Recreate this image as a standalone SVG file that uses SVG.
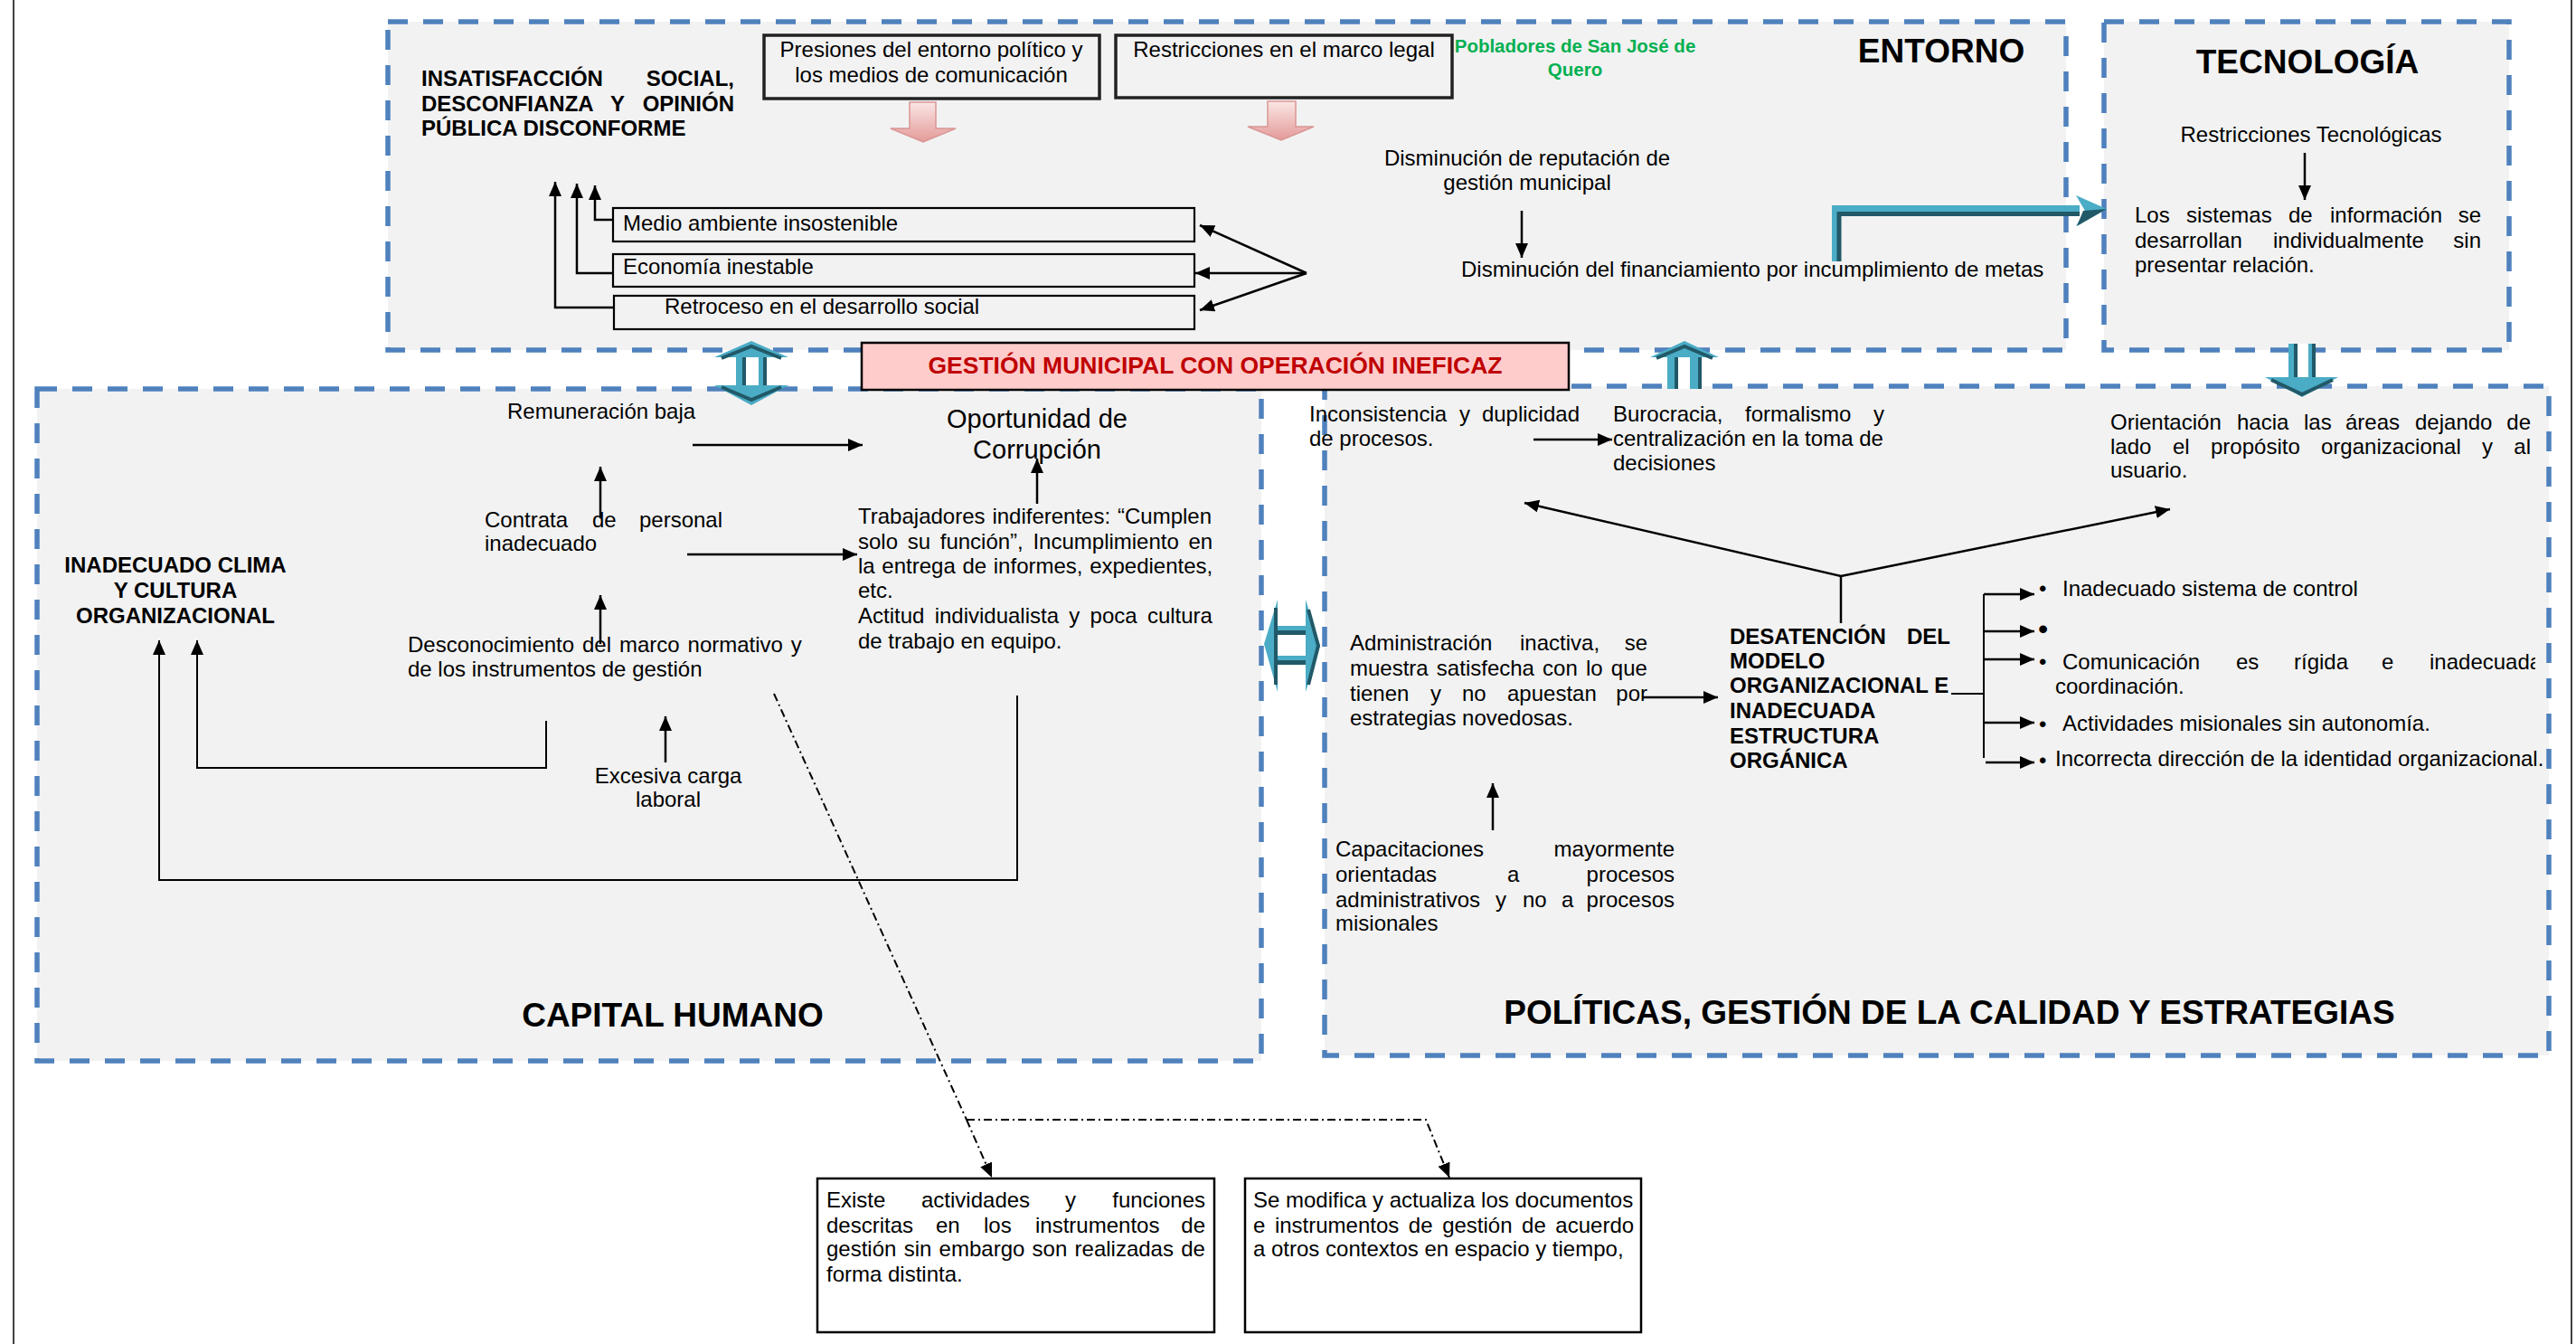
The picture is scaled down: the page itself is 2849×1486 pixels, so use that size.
<svg xmlns="http://www.w3.org/2000/svg" width="2849" height="1486" viewBox="0 0 2849 1486">
  <style>
    .t{font-family:"Liberation Sans",Arial,Helvetica,sans-serif;font-size:24px;fill:#000}
    .b{font-weight:bold}
    .h{font-family:"Liberation Sans",Arial,Helvetica,sans-serif;font-size:37px;font-weight:bold;fill:#000}
    .m{text-anchor:middle}
    .e{text-anchor:end}
    .zone{fill:#f2f2f2;stroke:#4f81bd;stroke-width:5.5;stroke-dasharray:22 17}
    .ln{fill:none;stroke:#000;stroke-width:2.5}
    .thin{fill:none;stroke:#000;stroke-width:2}
    .arr{marker-end:url(#ah)}
    .dd{fill:none;stroke:#000;stroke-width:2;stroke-dasharray:9 4 2 4}
    .box{fill:#f2f2f2;stroke:#000;stroke-width:2.2}
    .wbox{fill:#fff;stroke:#000;stroke-width:2.5}
    .teal{fill:#4bacc6}
    .dark{fill:#215968}
    .darkln{fill:none;stroke:#215968;stroke-width:4}
    .pink{fill:url(#pk);stroke:#d99694;stroke-width:1.5}
  </style>
  <defs>
    <marker id="ah" markerUnits="userSpaceOnUse" markerWidth="18" markerHeight="16" refX="16" refY="7" orient="auto">
      <path d="M0,0 L16,7 L0,14 z" fill="#000"/>
    </marker>
    <linearGradient id="pk" x1="0" y1="0" x2="0" y2="1">
      <stop offset="0" stop-color="#fae6e5"/>
      <stop offset="1" stop-color="#e39a98"/>
    </linearGradient>
    <clipPath id="clipR">
      <rect x="0" y="0" width="2804" height="1486"/>
    </clipPath>
  </defs>

  <rect x="0" y="0" width="2849" height="1486" fill="#fff"/>
  <!-- page frame -->
  <line x1="15" y1="0" x2="15" y2="1486" stroke="#000" stroke-width="1.5"/>
  <line x1="2844" y1="0" x2="2844" y2="1486" stroke="#000" stroke-width="1.5"/>

  <!-- zones -->
  <g id="entorno">
    <rect class="zone" x="429" y="24" width="1856" height="363"/>
    <text class="h m" x="2147" y="69">ENTORNO</text>
  </g>
  <g id="tecnologia">
    <rect class="zone" x="2327" y="24" width="448" height="363"/>
    <text class="h m" x="2552" y="81">TECNOLOGÍA</text>
  </g>
  <g id="capital-humano">
    <rect class="zone" x="41" y="430" width="1354" height="743"/>
    <text class="h m" x="744" y="1135">CAPITAL HUMANO</text>
  </g>
  <g id="politicas">
    <rect class="zone" x="1465" y="427" width="1354" height="740"/>
    <text class="h m" x="2156" y="1132">POLÍTICAS, GESTIÓN DE LA CALIDAD Y ESTRATEGIAS</text>
  </g>

  <!-- connectors -->
  <g id="connectors">
    <!-- entorno -->
    <path class="ln arr" d="M678,243 H658 V205"/>
    <path class="ln arr" d="M678,302 H638 V203"/>
    <path class="ln arr" d="M679,340 H614 V201"/>
    <path class="ln arr" d="M1445,302 L1327,249"/>
    <path class="ln arr" d="M1445,302 L1322,302"/>
    <path class="ln arr" d="M1445,302 L1327,343"/>
    <path class="ln arr" d="M1683,233 V285"/>
    <!-- tecnologia -->
    <path class="ln arr" d="M2549,169 V221"/>
    <!-- capital humano -->
    <path class="ln arr" d="M766,492 H954"/>
    <path class="ln arr" d="M1147,557 V507"/>
    <path class="ln arr" d="M664,573 V516"/>
    <path class="ln arr" d="M760,613 H948"/>
    <path class="ln arr" d="M664,712 V658"/>
    <path class="ln arr" d="M736,843 V792"/>
    <path class="thin arr" d="M604,797 V849 H218 V708"/>
    <path class="thin arr" d="M1125,769 V973 H176 V708"/>
    <!-- dash-dot links to the lower boxes -->
    <path class="dd" d="M856,767 L1069,1238"/>
    <path class="dd arr" d="M1069,1238 L1097,1302"/>
    <path class="dd arr" d="M1069,1238 H1577 L1603,1302"/>
    <!-- politicas -->
    <path class="ln arr" d="M1696,486 H1783"/>
    <path class="ln" d="M2036,689 V637"/>
    <path class="ln arr" d="M2036,637 L1686,556"/>
    <path class="ln arr" d="M2036,637 L2400,563"/>
    <path class="ln arr" d="M1816,771 H1900"/>
    <path class="ln arr" d="M1651,918 V866"/>
    <path class="thin" d="M2158,767 H2194 M2194,657 V838"/>
    <path class="ln arr" d="M2194,657 H2250"/>
    <path class="ln arr" d="M2194,698 H2250"/>
    <path class="ln arr" d="M2194,729 H2250"/>
    <path class="ln arr" d="M2194,799 H2250"/>
    <path class="ln arr" d="M2196,843 H2250"/>

    <!-- pink block arrows -->
    <polygon class="pink" points="1006,113 1035,113 1035,142 1057,142 1021,157 985,142 1006,142"/>
    <polygon class="pink" points="1402,112 1433,112 1433,140 1453,140 1417,155 1380,140 1402,140"/>

    <!-- teal block arrows -->
    <g id="arrow-updown">
      <polygon class="teal" points="831,377 872,395 848,395 848,426 872,426 831,448 790,426 814,426 814,395 790,395"/>
      <rect fill="#fff" x="825" y="395" width="14" height="31"/>
      <rect class="dark" x="821" y="395" width="4" height="31"/>
      <rect class="dark" x="844" y="395" width="4" height="31"/>
      <polyline class="darkln" points="798,396 831,383 864,396"/>
      <polyline class="darkln" points="798,428 831,442 864,428"/>
    </g>
    <g id="arrow-up">
      <polygon class="teal" points="1863,377 1901,395 1882,395 1882,430 1844,430 1844,395 1825,395"/>
      <rect fill="#fff" x="1856" y="395" width="13" height="35"/>
      <rect class="dark" x="1852" y="395" width="4" height="35"/>
      <rect class="dark" x="1878" y="395" width="4" height="35"/>
      <polyline class="darkln" points="1832,396 1863,383 1894,396"/>
    </g>
    <g id="arrow-down">
      <polygon class="teal" points="2531,380 2561,380 2561,417 2586,417 2546,439 2505,417 2531,417"/>
      <rect fill="#fff" x="2541" y="380" width="12" height="37"/>
      <rect class="dark" x="2537" y="380" width="4" height="37"/>
      <rect class="dark" x="2557" y="380" width="4" height="37"/>
      <polyline class="darkln" points="2512,420 2546,436 2580,420"/>
    </g>
    <g id="arrow-leftright">
      <polygon class="teal" points="1398,712 1413,663 1413,692 1444,692 1444,663 1460,714 1444,765 1444,735 1413,735 1413,765"/>
      <rect fill="#fff" x="1413" y="702" width="31" height="23"/>
      <rect class="dark" x="1413" y="697" width="31" height="5"/>
      <rect class="dark" x="1413" y="730" width="31" height="5"/>
      <polyline class="darkln" points="1411,672 1411,757"/>
      <polyline class="darkln" points="1447,674 1458,714 1447,757"/>
    </g>
    <g id="arrow-elbow">
      <path d="M2029.5,289 V230.5 H2300" fill="none" stroke="#4bacc6" stroke-width="7"/>
      <path d="M2034,289 V236.5 H2300" fill="none" stroke="#215968" stroke-width="5"/>
      <polygon class="teal" points="2296,216 2330,231 2296,250 2306,233"/>
      <polygon class="dark" points="2304,233 2330,231 2297,250"/>
    </g>
  </g>

  <!-- entorno nodes -->
  <g id="n-insatisfaccion">
    <text class="t b" x="466" y="95">INSATISFACCIÓN</text>
    <text class="t b e" x="812" y="95">SOCIAL,</text>
    <text class="t b" x="466" y="123">DESCONFIANZA</text>
    <text class="t b" x="675" y="123">Y</text>
    <text class="t b e" x="812" y="123">OPINIÓN</text>
    <text class="t b" x="466" y="150">PÚBLICA DISCONFORME</text>
  </g>
  <g id="n-presiones">
    <rect x="845" y="39" width="371" height="70" fill="#f2f2f2" stroke="#222" stroke-width="3.5"/>
    <text class="t m" x="1030" y="63">Presiones del entorno político y</text>
    <text class="t m" x="1030" y="91">los medios de comunicación</text>
  </g>
  <g id="n-restricciones-legal">
    <rect x="1234" y="39" width="372" height="69" fill="#f2f2f2" stroke="#222" stroke-width="3.5"/>
    <text class="t m" x="1420" y="63">Restricciones en el marco legal</text>
  </g>
  <g id="n-pobladores">
    <text class="t b m" x="1742" y="58" style="font-size:20.5px;fill:#00b050">Pobladores de San José de</text>
    <text class="t b m" x="1742" y="84" style="font-size:20.5px;fill:#00b050">Quero</text>
  </g>
  <g id="n-medio-ambiente">
    <rect class="box" x="678" y="230" width="643" height="37"/>
    <text class="t" x="689" y="255">Medio ambiente insostenible</text>
  </g>
  <g id="n-economia">
    <rect class="box" x="678" y="281" width="643" height="36"/>
    <text class="t" x="689" y="303">Economía inestable</text>
  </g>
  <g id="n-retroceso">
    <rect class="box" x="679" y="327" width="642" height="37"/>
    <text class="t" x="735" y="347">Retroceso en el desarrollo social</text>
  </g>
  <g id="n-reputacion">
    <text class="t m" x="1689" y="183">Disminución de reputación de</text>
    <text class="t m" x="1689" y="210">gestión municipal</text>
  </g>
  <g id="n-financiamiento">
    <text class="t" x="1616" y="306">Disminución del financiamiento por incumplimiento de metas</text>
  </g>

  <!-- tecnologia nodes -->
  <g id="n-restricciones-tec">
    <text class="t m" x="2556" y="157">Restricciones Tecnológicas</text>
  </g>
  <g id="n-sistemas">
    <text class="t" x="2361" y="246">Los</text>
    <text class="t" x="2418" y="246">sistemas</text>
    <text class="t" x="2531" y="246">de</text>
    <text class="t" x="2577" y="246">información</text>
    <text class="t e" x="2744" y="246">se</text>
    <text class="t" x="2361" y="274">desarrollan</text>
    <text class="t" x="2514" y="274">individualmente</text>
    <text class="t e" x="2744" y="274">sin</text>
    <text class="t" x="2361" y="301">presentar relación.</text>
  </g>

  <!-- capital humano nodes -->
  <g id="n-remuneracion">
    <text class="t" x="561" y="463">Remuneración baja</text>
  </g>
  <g id="n-corrupcion">
    <text class="t m" x="1147" y="473" style="font-size:29px">Oportunidad de</text>
    <text class="t m" x="1147" y="507" style="font-size:29px">Corrupción</text>
  </g>
  <g id="n-contrata">
    <text class="t" x="536" y="583">Contrata</text>
    <text class="t" x="655" y="583">de</text>
    <text class="t e" x="799" y="583">personal</text>
    <text class="t" x="536" y="609">inadecuado</text>
  </g>
  <g id="n-trabajadores">
    <text class="t" x="949" y="579" word-spacing="1.2">Trabajadores indiferentes: “Cumplen</text>
    <text class="t" x="949" y="607" word-spacing="4">solo su función”, Incumplimiento en</text>
    <text class="t" x="949" y="634" word-spacing="1">la entrega de informes, expedientes,</text>
    <text class="t" x="949" y="661">etc.</text>
    <text class="t" x="949" y="689" word-spacing="4.6">Actitud individualista y poca cultura</text>
    <text class="t" x="949" y="717">de trabajo en equipo.</text>
  </g>
  <g id="n-clima">
    <text class="t b m" x="194" y="633">INADECUADO CLIMA</text>
    <text class="t b m" x="194" y="661">Y CULTURA</text>
    <text class="t b m" x="194" y="689">ORGANIZACIONAL</text>
  </g>
  <g id="n-desconocimiento">
    <text class="t" x="451" y="721" word-spacing="2.25">Desconocimiento del marco normativo y</text>
    <text class="t" x="451" y="748">de los instrumentos de gestión</text>
  </g>
  <g id="n-carga">
    <text class="t m" x="739" y="866">Excesiva carga</text>
    <text class="t m" x="739" y="892">laboral</text>
  </g>

  <!-- politicas nodes -->
  <g id="n-inconsistencia">
    <text class="t" x="1448" y="466">Inconsistencia</text>
    <text class="t" x="1614" y="466">y</text>
    <text class="t e" x="1747" y="466">duplicidad</text>
    <text class="t" x="1448" y="493">de procesos.</text>
  </g>
  <g id="n-burocracia">
    <text class="t" x="1784" y="466">Burocracia,</text>
    <text class="t" x="1930" y="466">formalismo</text>
    <text class="t e" x="2084" y="466">y</text>
    <text class="t" x="1784" y="493">centralización en la toma de</text>
    <text class="t" x="1784" y="520">decisiones</text>
  </g>
  <g id="n-orientacion">
    <text class="t" x="2334" y="475">Orientación</text>
    <text class="t" x="2474" y="475">hacia</text>
    <text class="t" x="2548" y="475">las</text>
    <text class="t" x="2594" y="475">áreas</text>
    <text class="t" x="2671" y="475">dejando</text>
    <text class="t e" x="2799" y="475">de</text>
    <text class="t" x="2334" y="502">lado</text>
    <text class="t" x="2403" y="502">el</text>
    <text class="t" x="2445" y="502">propósito</text>
    <text class="t" x="2567" y="502">organizacional</text>
    <text class="t" x="2745" y="502">y</text>
    <text class="t e" x="2799" y="502">al</text>
    <text class="t" x="2334" y="528">usuario.</text>
  </g>
  <g id="n-administracion">
    <text class="t" x="1493" y="719">Administración</text>
    <text class="t" x="1681" y="719">inactiva,</text>
    <text class="t e" x="1822" y="719">se</text>
    <text class="t" x="1493" y="747" word-spacing="2.5">muestra satisfecha con lo que</text>
    <text class="t" x="1493" y="775">tienen</text>
    <text class="t" x="1582" y="775">y</text>
    <text class="t" x="1617" y="775">no</text>
    <text class="t" x="1667" y="775">apuestan</text>
    <text class="t e" x="1822" y="775">por</text>
    <text class="t" x="1493" y="802">estrategias novedosas.</text>
  </g>
  <g id="n-desatencion">
    <text class="t b" x="1913" y="712">DESATENCIÓN</text>
    <text class="t b e" x="2157" y="712">DEL</text>
    <text class="t b" x="1913" y="739">MODELO</text>
    <text class="t b" x="1913" y="766">ORGANIZACIONAL E</text>
    <text class="t b" x="1913" y="794">INADECUADA</text>
    <text class="t b" x="1913" y="822">ESTRUCTURA</text>
    <text class="t b" x="1913" y="849">ORGÁNICA</text>
  </g>
  <g id="n-capacitaciones">
    <text class="t" x="1477" y="947">Capacitaciones</text>
    <text class="t e" x="1852" y="947">mayormente</text>
    <text class="t" x="1477" y="975">orientadas</text>
    <text class="t" x="1667" y="975">a</text>
    <text class="t e" x="1852" y="975">procesos</text>
    <text class="t" x="1477" y="1003">administrativos</text>
    <text class="t" x="1654" y="1003">y</text>
    <text class="t" x="1684" y="1003">no</text>
    <text class="t" x="1727" y="1003">a</text>
    <text class="t e" x="1852" y="1003">procesos</text>
    <text class="t" x="1477" y="1029">misionales</text>
  </g>
  <g id="n-bullets">
    <text class="t" x="2255" y="659">•</text>
    <text class="t" x="2281" y="659">Inadecuado sistema de control</text>
    <text class="t" x="2254" y="706" style="font-size:32px">•</text>
    <text class="t" x="2255" y="740">•</text>
    <g clip-path="url(#clipR)">
      <text class="t" x="2281" y="740">Comunicación</text>
      <text class="t" x="2473" y="740">es</text>
      <text class="t" x="2537" y="740">rígida</text>
      <text class="t" x="2634" y="740">e</text>
      <text class="t" x="2687" y="740">inadecuada</text>
    </g>
    <text class="t" x="2273" y="767">coordinación.</text>
    <text class="t" x="2255" y="809">•</text>
    <text class="t" x="2281" y="808">Actividades misionales sin autonomía.</text>
    <text class="t" x="2255" y="849">•</text>
    <text class="t" x="2273" y="847">Incorrecta dirección de la identidad organizacional.</text>
  </g>

  <!-- lower boxes -->
  <g id="n-existe">
    <rect class="wbox" x="904" y="1303" width="439" height="170"/>
    <text class="t" x="914" y="1335">Existe</text>
    <text class="t" x="1019" y="1335">actividades</text>
    <text class="t" x="1178" y="1335">y</text>
    <text class="t e" x="1333" y="1335">funciones</text>
    <text class="t" x="914" y="1363">descritas</text>
    <text class="t" x="1035" y="1363">en</text>
    <text class="t" x="1088" y="1363">los</text>
    <text class="t" x="1145" y="1363">instrumentos</text>
    <text class="t e" x="1333" y="1363">de</text>
    <text class="t" x="914" y="1389" word-spacing="1.6">gestión sin embargo son realizadas de</text>
    <text class="t" x="914" y="1417">forma distinta.</text>
  </g>
  <g id="n-modifica">
    <rect class="wbox" x="1377" y="1303" width="438" height="170"/>
    <text class="t" x="1386" y="1335">Se modifica y actualiza los documentos</text>
    <text class="t" x="1386" y="1363" word-spacing="3.9">e instrumentos de gestión de acuerdo</text>
    <text class="t" x="1386" y="1389">a otros contextos en espacio y tiempo,</text>
  </g>

  <!-- central problem -->
  <g id="n-gestion-municipal">
    <rect x="953" y="379" width="782" height="52" fill="#ffcccc" stroke="#000" stroke-width="2.5"/>
    <text class="t b m" x="1344" y="413" style="font-size:26.5px;fill:#c00000">GESTIÓN MUNICIPAL CON OPERACIÓN INEFICAZ</text>
  </g>
</svg>
